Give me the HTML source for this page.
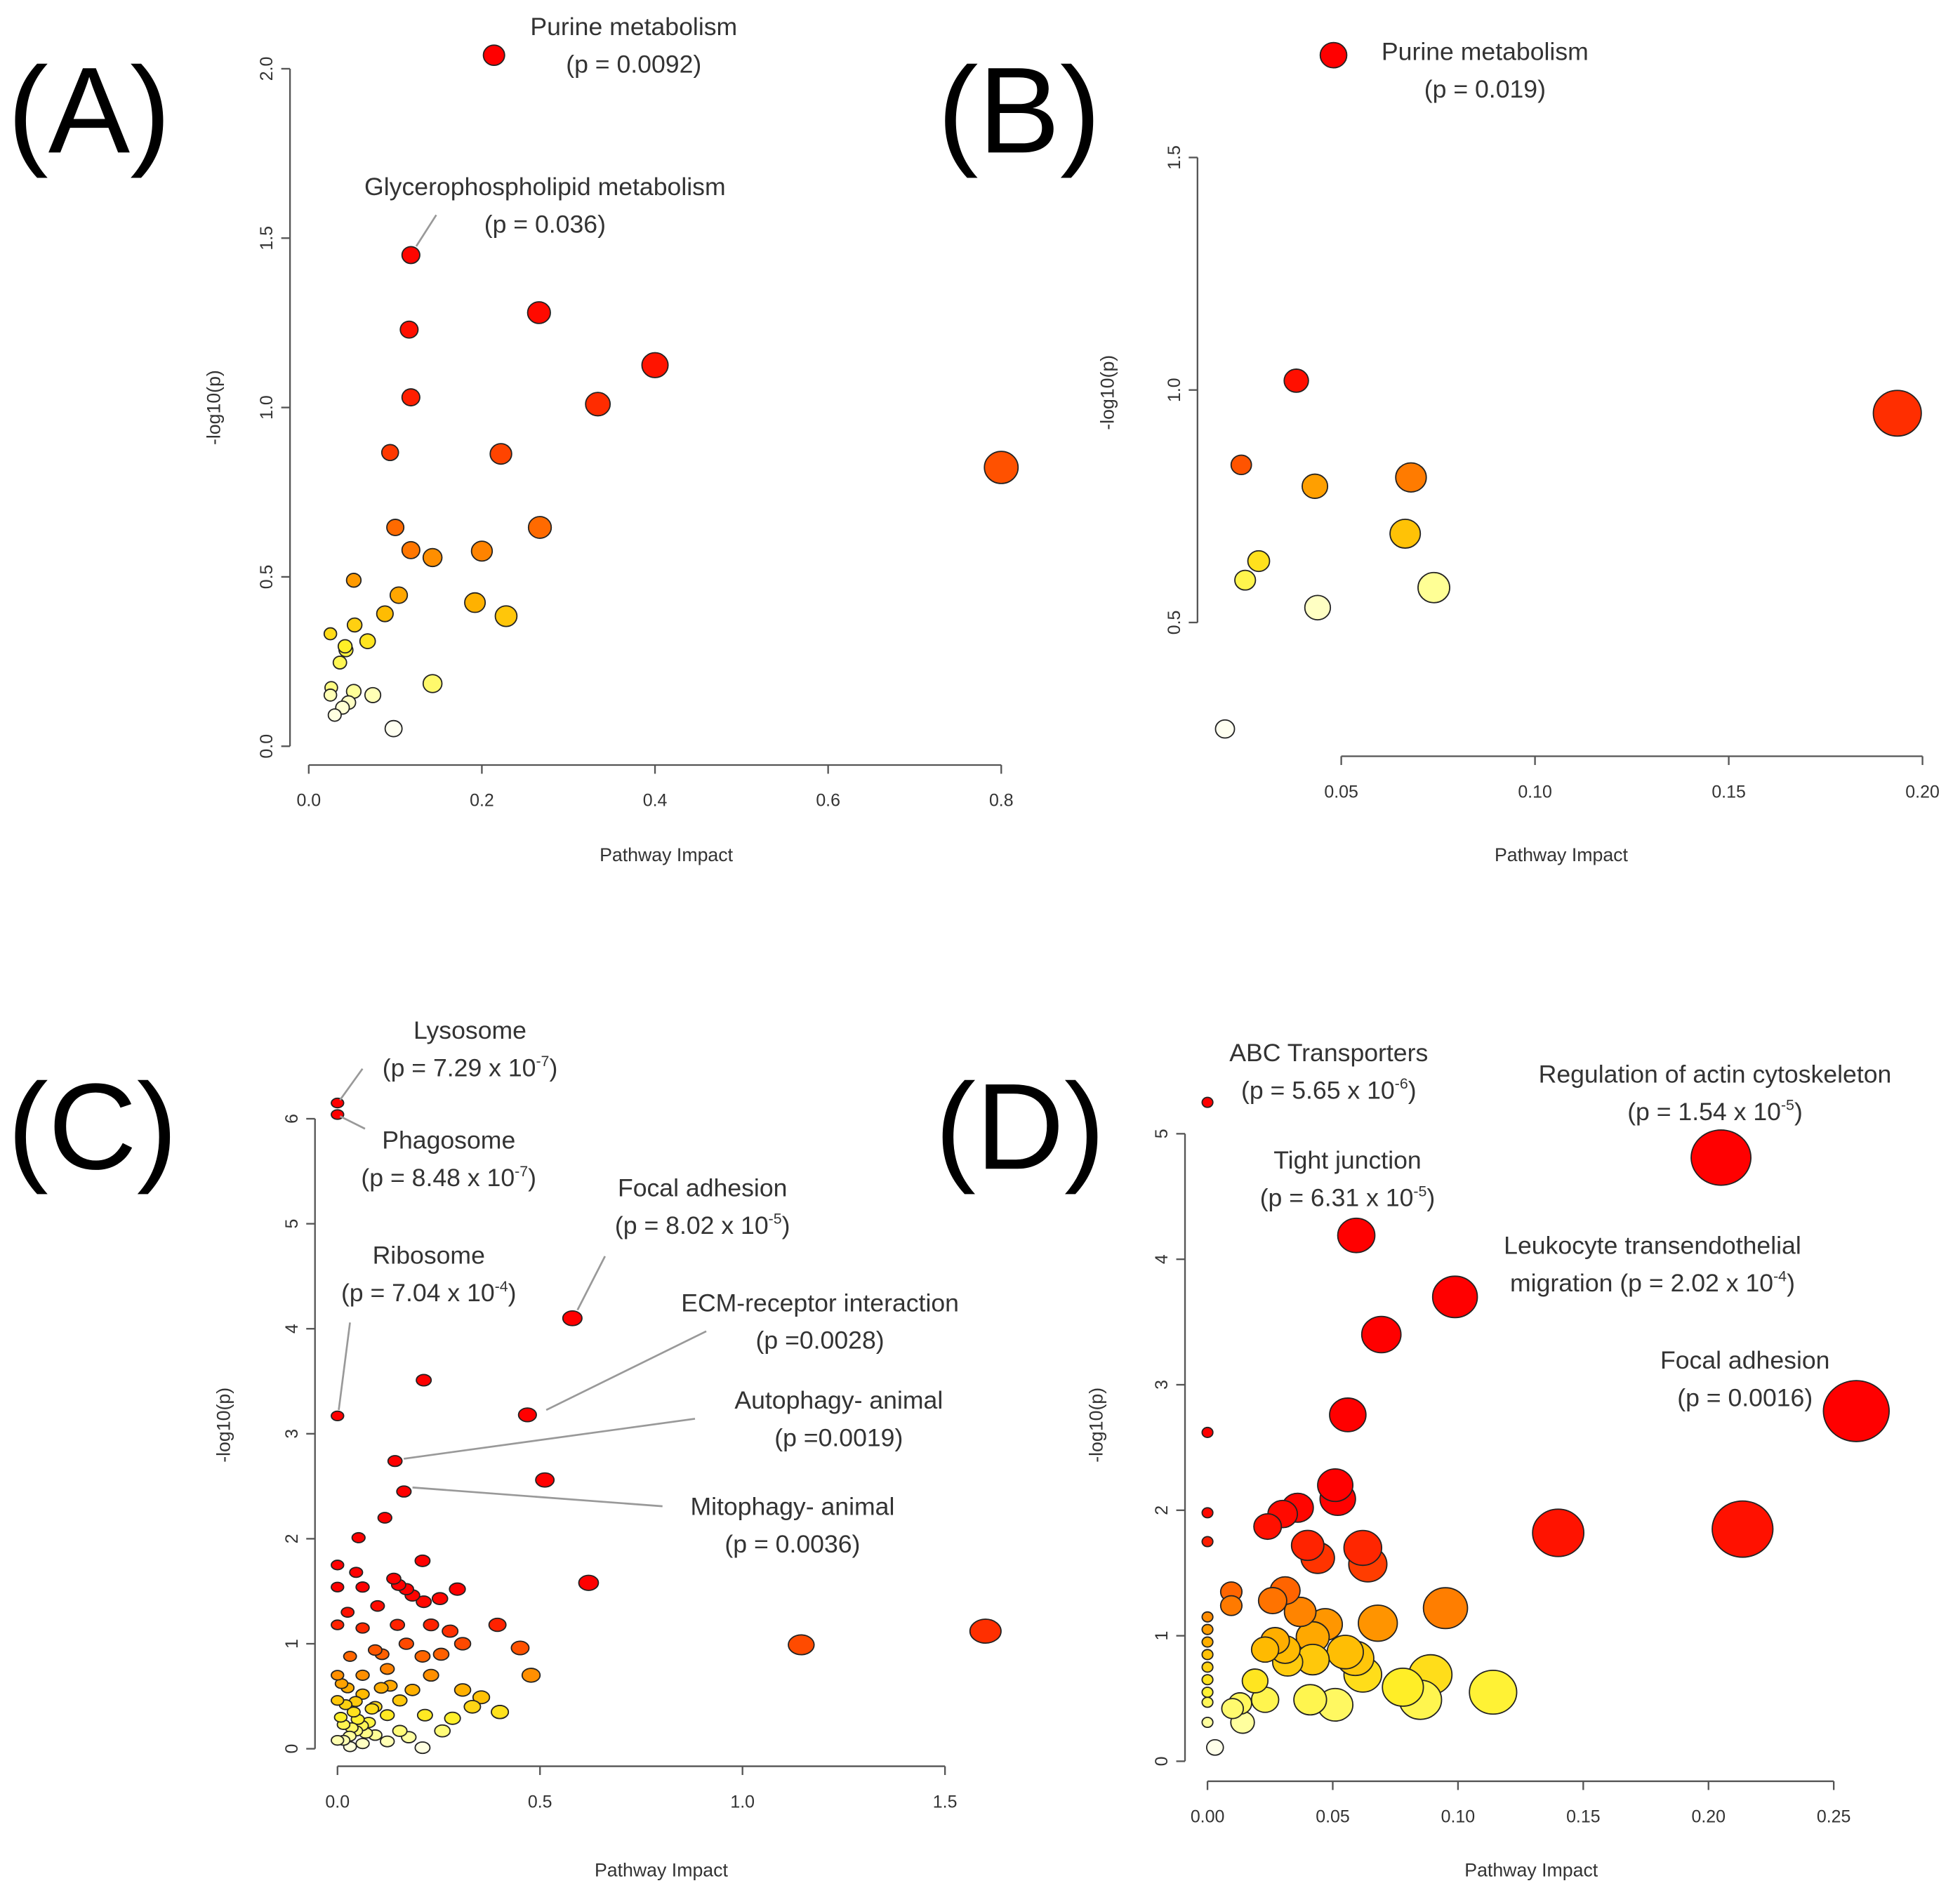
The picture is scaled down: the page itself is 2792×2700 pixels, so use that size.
<!DOCTYPE html>
<html><head><meta charset="utf-8"><style>
html,body{margin:0;padding:0;background:#fff}
svg{display:block}
text{font-family:"Liberation Sans",sans-serif}
</style></head><body>
<svg id="fig" width="2792" height="2700" viewBox="0 0 1568 1516" preserveAspectRatio="none" xmlns="http://www.w3.org/2000/svg">
<rect width="1568" height="1516" fill="#fff"/>
</svg>
<script>
// Panel A data
const aImpact=[0.214,0.118,0.266,0.40,0.116,0.118,0.334,0.094,0.222,0.80,0.10,0.267,0.118,0.143,0.2,0.052,0.104,0.088,0.192,0.228,0.053,0.025,0.068,0.042,0.043,0.036,0.143,0.026,0.025,0.052,0.074,0.046,0.039,0.03,0.098];
const aLogP=[2.04,1.45,1.28,1.125,1.23,1.03,1.01,0.867,0.863,0.823,0.646,0.646,0.579,0.557,0.576,0.49,0.446,0.391,0.424,0.384,0.358,0.332,0.31,0.295,0.284,0.247,0.185,0.173,0.151,0.162,0.151,0.129,0.114,0.092,0.052];
const aXTicks=[0,0.2,0.4,0.6,0.8], aXLabels=["0.0","0.2","0.4","0.6","0.8"];
const aYTicks=[0,0.5,1,1.5,2], aYLabels=["0.0","0.5","1.0","1.5","2.0"];
// Panel B data
const bImpact=[0.048,0.0384,0.1935,0.0242,0.0432,0.068,0.0287,0.0252,0.0665,0.0739,0.0439,0.02];
const bLogP=[1.72,1.02,0.95,0.839,0.793,0.812,0.632,0.591,0.691,0.575,0.532,0.271];
const bXTicks=[0.05,0.1,0.15,0.2], bXLabels=["0.05","0.10","0.15","0.20"];
const bYTicks=[0.5,1,1.5], bYLabels=["0.5","1.0","1.5"];
// Panel C data
const cImpact=[0,0,0,0.58,0.213,0.469,0.142,0.164,0.512,0.62,1.145,1.6,0.052,0,0.117,0.21,0.139,0.151,0.17,0.185,0.213,0.253,0.296,0.046,0,0.062,0.025,0.099,0.062,0,0.395,0.148,0.231,0.278,0.309,0.256,0.451,0.478,0.17,0.21,0.093,0.031,0.123,0.062,0.231,0,0.309,0.355,0.401,0.333,0.284,0.259,0.216,0.185,0.154,0.108,0.062,0.025,0,0.093,0.04,0.123,0.077,0.015,0.046,0.093,0.015,0.062,0.176,0.21,0.123,0,0.031,0.154,0.008,0.02,0.035,0.05,0.07,0.085,0.01,0.03,0.045,0.06,0.11,0.13];
const cLogP=[6.15,6.04,3.17,4.1,3.51,3.18,2.74,2.45,2.56,1.58,0.99,1.12,2.01,1.75,2.2,1.79,1.62,1.56,1.52,1.46,1.4,1.43,1.52,1.68,1.54,1.54,1.3,1.36,1.15,1.18,1.18,1.18,1.18,1.12,1.0,0.9,0.96,0.7,1.0,0.88,0.94,0.88,0.76,0.7,0.7,0.7,0.56,0.49,0.35,0.4,0.29,0.17,0.32,0.56,0.46,0.58,0.52,0.58,0.46,0.4,0.35,0.32,0.25,0.23,0.17,0.13,0.08,0.05,0.11,0.01,0.07,0.08,0.02,0.17,0.3,0.42,0.2,0.28,0.15,0.38,0.62,0.12,0.45,0.22,0.9,0.6];
const cXTicks=[0,0.5,1,1.5], cXLabels=["0.0","0.5","1.0","1.5"];
const cYTicks=[0,1,2,3,4,5,6], cYLabels=["0","1","2","3","4","5","6"];
// Panel D data
const dImpact=[0,0.205,0.0594,0.0988,0.0694,0.259,0.056,0,0.2136,0.14,0,0,0.051,0.052,0.036,0.030,0.024,0.040,0.044,0.062,0.064,0.095,0.068,0.0095,0.0095,0.031,0.026,0.037,0.047,0.042,0.027,0.031,0.023,0.042,0.032,0.055,0.059,0.062,0.089,0.078,0.085,0.114,0.041,0.051,0.019,0.023,0.013,0.010,0.014,0.003,0,0,0,0,0,0,0,0,0];
const dLogP=[5.25,4.81,4.19,3.7,3.4,2.79,2.76,2.62,1.85,1.82,1.98,1.75,2.2,2.09,2.02,1.97,1.87,1.72,1.62,1.7,1.57,1.22,1.1,1.35,1.24,1.36,1.28,1.19,1.09,0.99,0.96,0.89,0.89,0.81,0.79,0.87,0.82,0.69,0.69,0.59,0.49,0.55,0.49,0.45,0.64,0.49,0.46,0.42,0.31,0.11,0.31,0.47,1.15,1.05,0.95,0.85,0.75,0.65,0.55];
const dXTicks=[0,0.05,0.1,0.15,0.2,0.25], dXLabels=["0.00","0.05","0.10","0.15","0.20","0.25"];
const dYTicks=[0,1,2,3,4,5], dYLabels=["0","1","2","3","4","5"];

const NS="http://www.w3.org/2000/svg";
const svg=document.getElementById('fig');
function mk(tag,attrs,parent){const e=document.createElementNS(NS,tag);for(const k in attrs)e.setAttribute(k,attrs[k]);(parent||svg).appendChild(e);return e;}
function lin(d0,d1,p0,p1){return v=>p0+(v-d0)/(d1-d0)*(p1-p0);}
const stops=[[0,[255,255,240]],[0.18,[255,255,150]],[0.32,[255,240,40]],[0.48,[255,185,0]],[0.62,[255,130,0]],[0.76,[255,70,0]],[0.88,[255,20,0]],[1,[255,0,0]]];
function col(q){for(let i=1;i<stops.length;i++){if(q<=stops[i][0]){const a=stops[i-1],b=stops[i],t=(q-a[0])/(b[0]-a[0]);const c=a[1].map((v,j)=>Math.round(v+(b[1][j]-v)*t));return `rgb(${c})`;}}return 'rgb(255,0,0)';}

function panel(id,cfg){
  const g=mk('g',{});
  
  
  const sx=lin(cfg.xd[0],cfg.xd[1],cfg.xp[0],cfg.xp[1]);
  const sy=lin(cfg.yd[0],cfg.yd[1],cfg.yp[0],cfg.yp[1]);
  const xa=mk('g',{},g);
  
  
  const xs=cfg.xt.map(sx);
  mk('line',{x1:xs[0],x2:xs[xs.length-1],y1:cfg.xAxisY,y2:cfg.xAxisY,stroke:'#555','stroke-width':1.3},xa);
  cfg.xt.forEach((t,i)=>{const x=sx(t);mk('line',{x1:x,x2:x,y1:cfg.xAxisY,y2:cfg.xAxisY+7,stroke:'#555','stroke-width':1.3},xa);
    const tx=mk('text',{x:x,y:cfg.xAxisY+33,'font-size':14,'text-anchor':'middle',fill:'#333'},xa);tx.textContent=cfg.xl[i];});
  const ya=mk('g',{},g);
  
  
  const ys=cfg.yt.map(sy);
  mk('line',{x1:cfg.yAxisX,x2:cfg.yAxisX,y1:ys[0],y2:ys[ys.length-1],stroke:'#555','stroke-width':1.3},ya);
  cfg.yt.forEach((t,i)=>{const y=sy(t);mk('line',{x1:cfg.yAxisX-7,x2:cfg.yAxisX,y1:y,y2:y,stroke:'#555','stroke-width':1.3},ya);
    const tx=mk('text',{x:0,y:0,'font-size':14,'text-anchor':'middle',fill:'#333',transform:`translate(${cfg.yAxisX-14},${y}) rotate(-90)`},ya);tx.textContent=cfg.yl[i];});
  const xt=mk('text',{x:cfg.xTitle[0],y:cfg.xTitle[1],'font-size':15,'text-anchor':'middle',fill:'#333'},g);
  
  
  xt.textContent='Pathway Impact';
  const yt=mk('text',{x:0,y:0,'font-size':15,'text-anchor':'middle',fill:'#333',transform:`translate(${cfg.yTitle[0]},${cfg.yTitle[1]}) rotate(-90)`},g);
  
  
  yt.textContent='-log10(p)';
  const n=cfg.x.length;const sorted=cfg.y.slice().sort((a,b)=>a-b);
  const idx=[...Array(n).keys()].sort((a,b)=>cfg.x[b]-cfg.x[a]);
  idx.forEach(i=>{
    const q=cfg.q?cfg.q(cfg.y[i]):sorted.indexOf(cfg.y[i])/(n-1);
    const r=cfg.r(cfg.x[i]);
    const e=mk('ellipse',{cx:sx(cfg.x[i]),cy:sy(cfg.y[i]),rx:r*cfg.ax,ry:r,fill:col(q),stroke:'#222','stroke-width':1},g);
    
    
  });
  const L=mk('text',{x:cfg.letter[0],y:cfg.letter[1],'font-size':98,fill:'#000'},g);
  
  
  L.textContent='('+id.toUpperCase()+')';
}
panel('a',{x:aImpact,y:aLogP,xd:[0,0.8],xp:[247,801],yd:[0,2],yp:[597,55],xt:aXTicks,xl:aXLabels,yt:aYTicks,yl:aYLabels,xAxisY:612,yAxisX:232,xTitle:[533,689],yTitle:[176,326],r:v=>3+Math.sqrt(v)*11,ax:1.05,letter:[6,122]});
panel('b',{x:bImpact,y:bLogP,xd:[0.05,0.2],xp:[1073,1538],yd:[0.5,1.5],yp:[498,126],xt:bXTicks,xl:bXLabels,yt:bYTicks,yl:bYLabels,xAxisY:605,yAxisX:958,xTitle:[1249,689],yTitle:[891,314],r:v=>2+Math.sqrt(v)*37,ax:1.05,letter:[750,122]});
panel('c',{x:cImpact,y:cLogP,xd:[0,1.5],xp:[270,756],yd:[0,6],yp:[1399,895],xt:cXTicks,xl:cXLabels,yt:cYTicks,yl:cYLabels,xAxisY:1413,yAxisX:252,xTitle:[529,1501],yTitle:[184,1140],r:v=>3.8+v*3.6,ax:1.3,letter:[6,935],q:y=>Math.min(1,Math.pow(y/1.5,0.7))});
panel('d',{x:dImpact,y:dLogP,xd:[0,0.25],xp:[966,1467],yd:[0,5],yp:[1409,907],xt:dXTicks,xl:dXLabels,yt:dYTicks,yl:dYLabels,xAxisY:1425,yAxisX:948,xTitle:[1225,1501],yTitle:[882,1140],r:v=>4+Math.sqrt(v)*40,ax:1.08,letter:[748,935],q:y=>Math.pow(Math.min(1,Math.max(0,(y-0.1)/2.0)),0.8)});

function ann(name,x,y,l1,l2,sup){
  const g=mk('g',{});
  
  
  const t1=mk('text',{x:x,y:y+7,'font-size':20,'text-anchor':'middle',fill:'#333'},g);t1.textContent=l1;
  const t2=mk('text',{x:x,y:y+37,'font-size':20,'text-anchor':'middle',fill:'#333'},g);
  if(sup){t2.appendChild(document.createTextNode(l2));const s=mk('tspan',{'font-size':12,dy:-8},t2);s.textContent=sup;const c=mk('tspan',{dy:8},t2);c.textContent=')';}
  else t2.textContent=l2;
}
function lead(x1,y1,x2,y2){const l=mk('line',{x1,y1,x2,y2,stroke:'#999','stroke-width':1.5});
  
  }
ann('label-purine-a',507,21,'Purine metabolism','(p = 0.0092)');
ann('label-glycerophospholipid',436,149,'Glycerophospholipid metabolism','(p = 0.036)');lead(349,172,333,197);
ann('label-purine-b',1188,41,'Purine metabolism','(p = 0.019)');
ann('label-lysosome',376,824,'Lysosome','(p = 7.29 x 10','-7');lead(290,855,272,880);
ann('label-phagosome',359,912,'Phagosome','(p = 8.48 x 10','-7');lead(292,903,272,893);
ann('label-ribosome',343,1004,'Ribosome','(p = 7.04 x 10','-4');lead(280,1058,271,1128);
ann('label-focal-c',562,950,'Focal adhesion','(p = 8.02 x 10','-5');lead(484,1005,462,1048);
ann('label-ecm',656,1042,'ECM-receptor interaction','(p =0.0028)');lead(565,1065,437,1128);
ann('label-autophagy',671,1120,'Autophagy- animal','(p =0.0019)');lead(556,1135,323,1167);
ann('label-mitophagy',634,1205,'Mitophagy- animal','(p = 0.0036)');lead(530,1205,330,1190);
ann('label-abc',1063,842,'ABC Transporters','(p = 5.65 x 10','-6');
ann('label-actin',1372,859,'Regulation of actin cytoskeleton','(p = 1.54 x 10','-5');
ann('label-tight',1078,928,'Tight junction','(p = 6.31 x 10','-5');
ann('label-leukocyte',1322,996,'Leukocyte transendothelial','migration (p = 2.02 x 10','-4');
ann('label-focal-d',1396,1088,'Focal adhesion','(p = 0.0016)');
</script>
</body></html>
